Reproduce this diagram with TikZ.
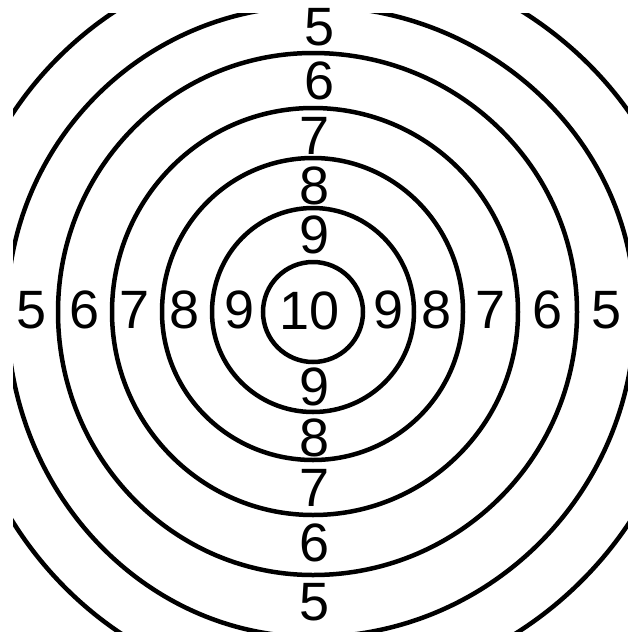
\documentclass[tikz,border=0pt]{standalone}
\usepackage{fontspec}
\setmainfont{Liberation Sans}
\newcommand\myring[4]{%
  \draw[ring] (313-#1,312)
    arc[start angle=180,end angle=270,x radius=#1,y radius=#2]
    arc[start angle=270,end angle=360,x radius=#3,y radius=#2]
    arc[start angle=0,end angle=90,x radius=#3,y radius=#4]
    arc[start angle=90,end angle=180,x radius=#1,y radius=#4] -- cycle;}
\tikzset{
  ring/.style={line width=4.5pt, black},
  num/.style={font=\fontsize{54}{54}\selectfont, inner sep=0pt, text=black}
}
\begin{document}
\begin{tikzpicture}[x=1pt,y=-1pt]
\fill[white] (0,0) rectangle (628,635);
\useasboundingbox (0,0) rectangle (628,635);
\begin{scope}
\clip (13,13) rectangle (628,631);
\myring{50}{50}{50}{50}
\myring{101}{104}{101}{100}
\myring{151}{154}{150}{148}
\myring{201}{204}{205}{203}
\myring{255}{259}{264}{263}
\myring{306}{306}{322}{325}
\myring{360}{360}{380}{380}
\end{scope}
\node[num] (c10) at (310,311) {10};
% top
\node[num] (t5) at (320,27) {5};
\node[num] (t6) at (320,81) {6};
\node[num] (t7) at (315,136) {7};
\node[num] (t8) at (315,186) {8};
\node[num] (t9) at (315,235) {9};
% bottom
\node[num] (b9) at (315,387) {9};
\node[num] (b8) at (315,438) {8};
\node[num] (b7) at (315,488) {7};
\node[num] (b6) at (315,543) {6};
\node[num] (b5) at (315,602) {5};
% left
\node[num] (l5) at (32,310) {5};
\node[num] (l6) at (85,310) {6};
\node[num] (l7) at (135,310) {7};
\node[num] (l8) at (185,310) {8};
\node[num] (l9) at (240,310) {9};
% right
\node[num] (r9) at (389,310) {9};
\node[num] (r8) at (437,310) {8};
\node[num] (r7) at (491,310) {7};
\node[num] (r6) at (548,310) {6};
\node[num] (r5) at (607,310) {5};
\end{tikzpicture}
\end{document}
